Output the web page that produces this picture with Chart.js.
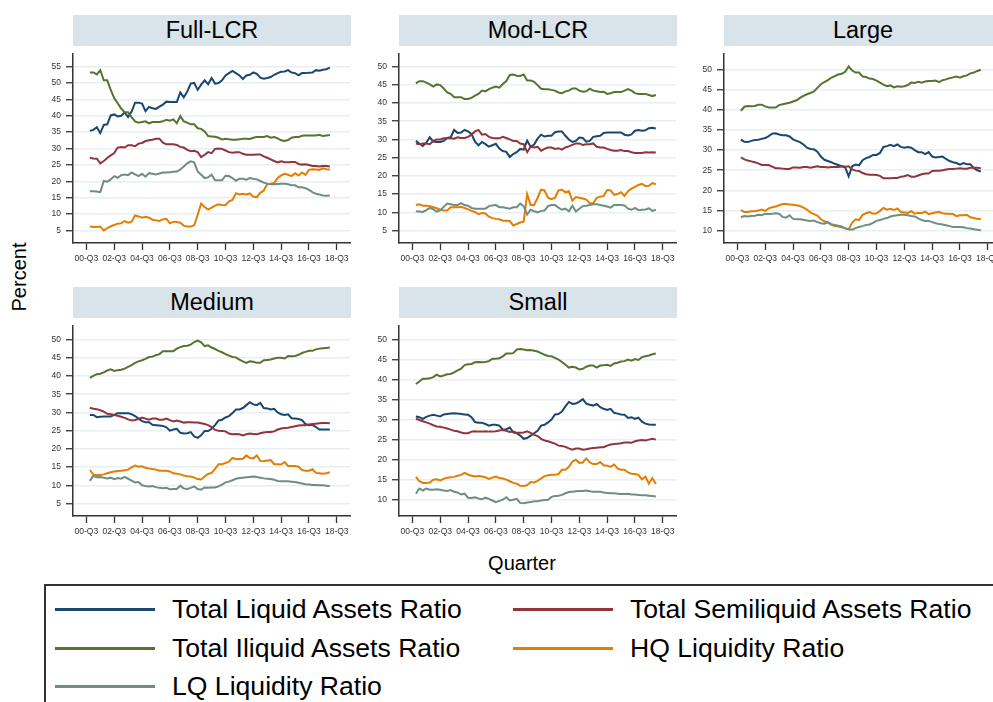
<!DOCTYPE html>
<html>
<head>
<meta charset="utf-8">
<script src="https://cdn.jsdelivr.net/npm/chart.js@4/dist/chart.umd.min.js"></script>
<style>
html,body{margin:0;padding:0;width:993px;height:702px;overflow:hidden;background:#fff;font-family:"Liberation Sans",Arial,Helvetica,sans-serif;}
.strip{position:absolute;background:#d9e4ea;color:#000;font-size:23.5px;text-align:center;white-space:nowrap;overflow:hidden;}
canvas{position:absolute;}
.axt{position:absolute;font-size:20px;color:#000;white-space:nowrap;}
.lgbox{position:absolute;left:44px;top:584px;width:1000px;height:200px;border-top:2px solid #333;border-left:2px solid #333;}
.sw{position:absolute;height:3px;width:100px;}
.lt{position:absolute;font-size:26.6px;line-height:30px;color:#000;white-space:nowrap;}
</style>
</head>
<body>
<script>
// ---------------- DATA ----------------
const quarters = ['2000Q4',
 '2001Q1','2001Q2','2001Q3','2001Q4','2002Q1','2002Q2','2002Q3','2002Q4',
 '2003Q1','2003Q2','2003Q3','2003Q4','2004Q1','2004Q2','2004Q3','2004Q4',
 '2005Q1','2005Q2','2005Q3','2005Q4','2006Q1','2006Q2','2006Q3','2006Q4',
 '2007Q1','2007Q2','2007Q3','2007Q4','2008Q1','2008Q2','2008Q3','2008Q4',
 '2009Q1','2009Q2','2009Q3','2009Q4','2010Q1','2010Q2','2010Q3','2010Q4',
 '2011Q1','2011Q2','2011Q3','2011Q4','2012Q1','2012Q2','2012Q3','2012Q4',
 '2013Q1','2013Q2','2013Q3','2013Q4','2014Q1','2014Q2','2014Q3','2014Q4',
 '2015Q1','2015Q2','2015Q3','2015Q4','2016Q1','2016Q2','2016Q3','2016Q4',
 '2017Q1','2017Q2','2017Q3','2017Q4','2018Q1'];

const xTickLabels = ['00-Q3','02-Q3','04-Q3','06-Q3','08-Q3','10-Q3','12-Q3','14-Q3','16-Q3','18-Q3'];

const seriesNames = ['Total Liquid Assets Ratio','Total Semiliquid Assets Ratio','Total Iliquid Assets Ratio','HQ Liquidity Ratio','LQ Liquidity Ratio'];
const panelNames = ['Full-LCR','Mod-LCR','Large','Medium','Small'];

const yTicksFull = [5,10,15,20,25,30,35,40,45,50,55];
const yTicksMod = [5,10,15,20,25,30,35,40,45,50];
const yTicksLarge = [10,15,20,25,30,35,40,45,50];
const yTicksMedium = [5,10,15,20,25,30,35,40,45,50];
const yTicksSmall = [10,15,20,25,30,35,40,45,50];

// Full-LCR
const fullLiquid = [35.4,35.7,36.5,34.7,37.2,37.4,40.1,40.4,39.8,40.0,
 41.0,39.6,41.3,44.0,44.0,43.7,41.4,42.7,42.3,42.1,
 42.8,43.4,44.3,44.2,44.2,44.2,47.1,45.6,47.4,49.8,
 50.0,47.9,49.5,50.8,49.6,51.5,49.8,50.0,50.8,52.3,
 53.0,53.7,53.0,52.3,51.2,52.3,52.5,53.2,52.8,51.6,
 51.3,51.5,51.8,52.5,53.0,53.4,53.5,53.9,53.2,53.0,
 52.3,53.0,53.0,53.1,53.2,53.9,53.7,54.0,54.2,54.7];
const fullSemi = [27.2,27.0,26.9,25.5,26.2,27.1,27.9,28.6,30.3,30.5,
 30.3,31.0,31.0,30.7,31.5,31.7,32.3,32.5,32.7,33.0,
 33.0,31.8,31.3,31.3,31.3,31.1,30.5,30.3,29.6,29.2,
 29.3,28.9,27.4,28.1,28.9,28.6,29.9,30.0,29.9,29.4,
 28.9,28.7,28.9,28.9,28.4,28.1,28.1,28.1,28.2,28.2,
 27.6,27.2,26.7,26.2,25.8,26.1,25.8,25.8,25.9,25.9,
 25.3,25.1,25.2,25.0,24.7,24.7,24.5,24.7,24.7,24.5];
const fullIlliquid = [53.2,53.2,52.6,53.9,50.8,50.8,47.9,45.4,43.8,42.2,
 41.1,41.1,39.6,38.3,37.9,38.1,38.3,37.7,38.1,38.1,
 38.1,38.3,38.8,38.5,38.9,37.7,39.9,38.3,37.9,37.4,
 37.4,36.2,36.0,35.2,33.8,33.7,33.6,33.3,32.8,33.0,
 32.8,32.7,32.7,32.8,33.0,33.0,32.9,33.3,33.5,33.5,
 33.5,33.8,33.3,33.5,33.1,32.5,32.3,32.6,33.3,33.5,
 33.5,33.9,34.0,34.0,34.0,34.0,34.2,33.8,34.0,34.1];
const fullHQ = [6.2,6.1,6.1,6.2,5.0,5.7,6.3,6.7,7.1,7.2,
 7.9,7.4,7.7,9.6,9.3,8.9,9.2,8.9,8.3,8.1,
 7.9,8.4,8.6,7.2,7.7,7.6,7.4,6.5,6.2,6.2,
 6.6,9.8,13.2,12.2,11.4,12.0,12.6,13.0,12.8,12.7,
 13.9,14.3,16.4,16.0,16.2,16.0,16.3,15.3,15.2,16.5,
 17.2,19.2,19.3,19.5,21.0,21.8,22.3,22.0,21.6,22.5,
 21.8,22.7,22.0,23.5,23.7,23.6,23.5,24.0,23.7,23.6];
const fullLQ = [17.0,17.0,16.9,16.7,20.1,19.9,20.6,21.6,21.1,21.9,
 22.1,21.9,22.7,22.1,21.6,22.3,21.4,22.5,22.3,22.1,
 22.4,22.7,22.7,22.8,22.9,23.0,23.6,24.5,25.5,26.1,
 25.8,23.0,22.0,21.0,21.2,22.0,20.3,20.3,20.3,21.7,
 21.6,21.0,20.2,20.8,20.8,20.5,21.0,20.8,20.6,20.1,
 19.6,19.3,19.1,19.1,19.2,19.3,19.3,19.1,18.8,18.8,
 18.2,18.2,17.9,17.4,16.7,16.2,16.0,15.7,15.6,15.7];

// Mod-LCR
const modLiquid = [29.6,28.9,28.2,29.1,30.6,29.4,29.3,29.3,29.6,30.4,
 30.6,32.6,31.8,31.9,32.6,32.2,31.5,29.4,28.4,29.3,
 28.7,28.0,28.4,28.8,27.5,26.8,26.6,25.2,26.0,26.5,
 27.4,27.2,29.7,28.0,28.6,30.2,31.3,30.8,31.0,31.0,
 32.0,32.2,32.2,31.0,30.0,29.3,29.6,30.5,30.4,29.4,
 29.6,30.7,30.9,31.0,31.8,31.9,31.9,31.9,31.9,31.9,
 31.3,31.1,31.4,32.4,32.6,32.4,32.5,33.1,33.2,33.0];
const modSemi = [28.9,28.7,28.9,28.9,28.7,29.6,30.0,30.0,30.3,30.3,
 30.3,30.2,30.6,30.4,30.4,30.7,31.3,32.2,32.6,31.3,
 31.5,30.7,30.4,30.3,30.3,30.7,30.4,30.0,29.6,29.6,
 28.9,28.7,26.5,28.0,27.8,28.0,26.9,27.4,27.8,27.8,
 27.4,27.6,27.2,27.8,28.1,28.5,28.9,28.9,28.5,28.7,
 28.7,28.9,28.0,27.8,27.8,27.4,27.1,26.9,26.9,27.1,
 26.8,26.8,26.5,26.3,26.3,26.3,26.5,26.4,26.5,26.4];
const modIlliquid = [45.4,46.0,46.0,45.6,45.1,44.5,45.1,44.9,44.0,42.9,
 42.5,41.6,41.6,41.6,41.1,41.1,41.4,42.0,42.5,43.4,
 43.2,43.8,44.2,44.5,44.2,45.2,46.0,47.7,47.8,47.5,
 47.4,47.8,46.2,46.2,45.8,44.9,43.9,43.8,43.8,43.6,
 43.4,42.9,42.7,43.2,43.4,44.0,44.0,43.4,43.1,43.2,
 43.9,43.4,43.2,43.0,43.1,42.5,42.7,43.0,43.0,43.0,
 43.4,43.8,43.4,42.7,42.5,42.5,42.5,42.2,41.9,42.2];
const modHQ = [12.0,12.2,11.8,11.8,11.7,11.4,11.1,10.7,10.5,10.5,
 11.4,11.4,11.4,11.5,11.2,10.8,10.4,10.1,9.5,9.8,
 9.7,8.8,8.4,8.2,8.1,7.7,7.7,7.6,6.4,6.8,
 7.2,7.4,15.0,12.0,12.0,14.0,16.2,16.0,14.0,13.6,
 14.0,16.0,16.2,15.5,15.8,13.2,14.2,14.0,13.8,13.5,
 12.5,12.5,14.0,14.3,14.5,16.1,16.0,14.8,15.0,15.5,
 14.5,15.8,16.5,17.0,17.5,17.8,17.2,17.3,18.0,17.7];
const modLQ = [10.3,10.2,10.1,10.6,11.2,10.8,10.2,10.5,11.5,12.4,
 12.2,12.0,12.0,12.5,12.0,11.8,11.2,11.0,11.0,11.0,
 11.0,11.7,11.9,12.0,11.4,11.4,11.2,11.0,11.4,11.4,
 12.4,11.7,9.4,10.7,10.3,10.0,10.4,10.5,11.7,12.0,
 12.0,11.3,10.7,11.0,10.3,11.8,10.2,11.0,11.7,11.8,
 12.0,12.2,12.2,12.0,11.8,11.6,11.3,12.0,12.0,12.0,
 11.9,11.0,10.7,11.2,10.6,10.7,10.8,11.1,10.4,10.7];

// Large
const largeLiquid = [32.6,32.1,32.0,32.3,32.5,32.6,32.8,33.0,33.5,34.1,
 34.2,33.9,33.7,33.7,33.4,32.7,32.3,32.0,31.4,30.6,
 30.3,30.2,29.6,28.4,27.6,27.3,27.0,26.6,26.3,26.0,
 25.7,23.5,26.0,26.4,26.2,27.5,28.0,28.3,28.8,28.8,
 29.3,30.8,31.0,31.3,31.0,31.4,30.8,30.6,30.8,30.6,
 30.0,29.5,29.5,29.0,29.5,28.4,28.2,28.3,28.4,27.8,
 27.3,27.0,26.8,26.4,26.8,26.5,26.5,25.5,25.0,24.7];
const largeSemi = [28.2,27.7,27.4,27.2,27.0,26.7,26.3,26.3,26.3,25.9,
 25.5,25.5,25.4,25.3,25.3,25.7,25.7,25.6,25.8,25.8,
 25.6,25.8,26.0,25.8,25.8,25.7,25.8,25.8,25.8,25.9,
 25.9,26.0,25.2,24.9,24.8,24.3,24.0,23.9,23.9,23.8,
 23.6,23.0,23.0,23.0,23.1,23.1,23.4,23.5,23.8,23.4,
 23.4,23.7,24.0,24.2,24.2,24.8,24.9,24.9,25.0,25.2,
 25.3,25.3,25.4,25.5,25.4,25.4,25.6,25.6,25.6,25.5];
const largeIlliquid = [39.8,40.8,41.0,40.9,41.0,41.3,41.3,40.9,40.6,40.6,
 40.6,41.2,41.4,41.6,41.8,42.1,42.4,43.0,43.5,43.9,
 44.2,44.6,45.5,46.4,46.9,47.4,48.0,48.4,48.8,49.0,
 49.5,50.8,49.8,49.3,49.3,48.3,48.2,47.8,47.7,47.3,
 46.8,46.3,45.9,46.1,45.6,45.9,45.8,45.9,46.2,46.8,
 46.7,47.0,46.8,47.1,47.2,47.2,47.3,46.9,47.4,47.6,
 47.9,48.1,48.3,48.0,48.4,48.6,49.1,49.3,49.7,50.0];
const largeHQ = [15.1,14.6,14.6,14.8,14.8,15.0,15.2,14.9,15.5,15.8,
 16.0,16.3,16.6,16.6,16.5,16.4,16.3,16.1,15.7,15.2,
 14.5,14.1,13.7,12.8,12.3,12.0,11.4,11.1,11.0,10.8,
 10.6,10.3,12.0,12.8,12.6,13.9,14.3,14.6,14.2,14.3,
 14.9,15.6,15.2,15.4,15.1,15.5,14.6,14.5,14.4,14.8,
 14.2,14.4,14.3,14.7,14.1,14.3,14.5,14.6,14.3,14.2,
 14.2,14.1,13.6,13.8,13.8,13.9,13.3,13.1,12.9,12.9];
const largeLQ = [13.3,13.6,13.5,13.6,13.7,13.9,13.8,14.2,14.1,14.2,
 14.3,14.2,13.4,13.2,13.8,12.9,12.8,12.8,12.7,12.5,
 12.4,12.5,12.1,11.8,11.7,12.1,11.6,11.4,11.2,11.0,
 10.5,10.3,10.2,10.6,10.9,11.1,11.4,11.5,11.9,12.4,
 12.6,12.9,13.1,13.5,13.7,13.8,13.9,13.9,13.8,13.6,
 13.5,13.0,12.6,12.4,12.4,12.1,11.8,11.6,11.5,11.3,
 11.1,10.9,10.9,10.9,10.8,10.6,10.5,10.3,10.2,10.1];

// Medium
const medLiquid = [29.3,29.3,28.7,28.8,28.9,28.9,28.9,29.3,29.8,29.8,
 29.8,29.8,29.5,29.0,28.3,27.6,27.3,27.3,26.6,26.5,
 26.4,26.3,25.9,25.0,25.3,25.5,24.4,24.2,24.3,24.6,
 23.4,23.0,23.7,24.9,24.9,25.5,26.5,27.8,28.0,28.6,
 29.0,29.8,30.8,30.8,31.2,32.0,32.8,32.2,32.0,32.6,
 31.2,31.1,30.8,31.0,30.0,29.5,29.3,29.5,28.4,28.3,
 28.2,27.9,26.8,26.5,26.6,26.0,25.3,25.3,25.3,25.3];
const medSemi = [31.3,31.0,30.9,30.6,30.2,29.6,29.5,29.3,29.1,28.8,
 28.5,28.1,27.8,27.9,28.2,28.6,28.3,28.0,28.3,28.3,
 28.0,28.0,28.3,27.9,27.5,27.8,27.5,27.2,27.3,27.3,
 27.2,27.2,27.0,26.8,26.5,26.0,25.2,25.0,24.9,24.8,
 24.2,24.0,24.1,24.0,23.7,24.0,24.2,24.1,24.0,24.3,
 24.5,24.6,24.6,24.8,25.3,25.6,25.7,25.8,26.0,26.2,
 26.4,26.5,26.5,26.7,26.8,26.9,27.0,27.1,27.1,27.0];
const medIlliquid = [39.5,40.0,40.5,40.6,41.0,41.5,41.8,41.4,41.6,41.7,
 42.0,42.5,43.0,43.6,44.0,44.3,44.7,45.2,45.3,45.7,
 46.0,46.8,46.8,46.8,46.8,47.5,47.9,48.2,48.3,48.6,
 49.3,49.7,49.2,48.2,48.4,47.8,47.4,46.9,46.5,46.0,
 45.6,45.2,45.1,44.5,44.0,43.6,44.0,43.9,43.6,43.6,
 44.3,44.4,44.5,44.8,45.0,45.0,44.8,45.5,45.4,45.5,
 45.8,46.3,46.6,46.9,46.9,47.3,47.5,47.6,47.7,47.8];
const medHQ = [14.2,13.0,12.8,12.8,13.0,13.3,13.6,13.8,13.9,14.0,
 14.1,14.3,14.9,15.4,15.1,15.2,14.8,14.6,14.5,14.3,
 14.0,14.0,14.0,13.8,13.3,13.2,13.0,12.7,12.5,12.4,
 12.1,11.7,11.6,12.4,13.1,13.4,14.5,15.8,15.8,16.1,
 16.5,17.5,17.2,17.2,17.3,18.2,17.5,17.4,18.2,16.7,
 16.6,16.8,16.9,15.8,15.8,15.7,16.4,15.3,15.3,15.3,
 15.1,14.2,14.0,14.0,14.4,13.4,13.3,13.2,13.3,13.6];
const medLQ = [11.2,12.6,12.2,12.3,12.1,11.9,12.1,11.7,12.0,11.8,
 12.3,11.8,11.3,10.8,10.9,10.0,9.8,9.7,9.8,9.5,
 9.3,9.2,9.3,8.9,9.0,9.0,9.9,9.1,9.0,9.3,
 9.7,9.0,8.8,9.4,9.3,9.4,9.4,9.7,10.2,10.8,
 11.0,11.4,11.8,12.0,12.1,12.2,12.3,12.4,12.3,12.1,
 11.9,11.8,11.7,11.5,11.2,11.1,11.1,11.1,11.0,10.9,
 10.7,10.5,10.3,10.2,10.1,10.1,10.0,10.0,9.9,9.8];

// Small
const smallLiquid = [30.8,30.6,30.2,30.7,31.0,31.2,31.0,30.8,31.3,31.4,
 31.5,31.6,31.5,31.4,31.3,31.2,30.6,29.4,29.2,29.2,
 28.9,28.5,28.7,28.7,28.5,27.5,27.6,28.0,26.8,26.6,
 26.0,25.2,25.4,26.0,26.6,27.2,28.5,28.7,29.3,30.0,
 31.3,31.4,32.0,33.3,34.4,33.9,34.0,34.5,35.1,34.0,
 33.7,33.5,33.9,33.1,32.7,32.4,32.7,31.7,31.5,31.3,
 31.2,30.4,30.6,30.2,30.5,29.5,29.0,28.8,28.7,28.7];
const smallSemi = [30.2,29.9,29.6,29.3,29.0,28.6,28.3,28.2,28.0,27.8,
 27.5,27.2,27.1,26.8,26.6,26.6,27.0,27.1,27.0,27.0,
 27.1,27.0,27.0,27.1,27.3,27.4,27.2,26.9,27.0,26.7,
 26.7,26.8,27.1,26.7,26.2,25.9,25.2,24.8,24.6,24.3,
 24.0,23.5,23.4,23.2,22.8,22.5,22.8,22.8,22.5,22.6,
 22.8,22.9,23.0,23.1,23.1,23.5,23.8,23.9,24.0,24.1,
 24.3,24.3,24.2,24.6,24.8,24.9,24.8,25.0,25.2,25.0];
const smallIlliquid = [38.9,39.5,40.2,40.2,40.3,40.6,41.2,40.8,41.0,41.3,
 41.4,41.8,42.3,42.7,43.6,43.8,43.9,44.3,44.4,44.3,
 44.4,44.6,45.2,45.2,45.3,45.8,46.5,46.5,46.6,47.5,
 47.6,47.5,47.3,47.4,47.2,47.0,46.6,46.2,45.9,45.8,
 45.4,45.0,44.4,43.7,43.0,43.2,43.0,42.5,42.7,43.2,
 43.5,43.5,43.0,43.5,43.6,43.7,43.4,44.0,44.2,44.5,
 44.6,45.0,44.7,45.1,44.9,45.6,45.8,46.0,46.3,46.5];
const smallHQ = [15.7,14.6,14.2,14.2,14.3,15.0,15.1,14.8,15.2,15.5,
 15.6,15.7,16.0,16.2,16.7,16.3,16.0,15.8,15.9,15.8,
 15.6,15.2,15.5,15.8,15.4,15.3,15.0,14.6,14.2,14.0,
 13.5,13.4,13.6,14.4,14.3,14.7,15.3,15.9,16.1,16.2,
 16.2,16.4,17.5,17.5,18.2,19.5,20.0,19.2,19.3,20.3,
 19.3,18.9,18.9,19.4,18.6,18.5,18.2,18.8,17.8,17.5,
 17.5,16.8,16.5,16.4,16.2,15.1,15.8,14.0,15.4,13.9];
const smallLQ = [11.5,12.8,12.3,12.8,12.5,12.5,12.6,12.5,12.3,12.2,
 12.4,12.0,11.8,11.3,11.5,10.5,10.4,10.6,10.3,10.1,
 10.5,10.2,9.8,9.4,9.7,10.0,10.6,9.8,10.0,10.2,
 9.2,9.1,9.3,9.4,9.6,9.6,9.8,9.9,10.0,10.7,
 10.9,11.0,11.2,11.6,11.9,12.0,12.1,12.2,12.2,12.3,
 12.1,12.0,12.0,12.0,11.8,11.7,11.6,11.6,11.5,11.4,
 11.4,11.5,11.3,11.3,11.2,11.1,11.1,11.0,10.9,10.8];

// ---------------- STYLE / LAYOUT ----------------
const COLORS = ['#1a476f','#90353b','#55752f','#e37e00','#6e8e84'];
const FONT = '"Liberation Sans", Arial, Helvetica, sans-serif';
const YW = 40, XH = 32, PADT = 2, PADR = 8;

// quarter string -> index, 2000Q3 = 0
function qIndex(s){ const y = parseInt(s.slice(0,4),10), q = parseInt(s.slice(5),10); return (y-2000)*4 + (q-3); }
function tickIndex(lbl){ const y = 2000 + parseInt(lbl.slice(0,2),10), q = parseInt(lbl.slice(4),10); return (y-2000)*4 + (q-3); }
const xTickVals = xTickLabels.map(tickIndex);

const layout = [
  {name:panelNames[0], left:73,  top:46,  w:277, h:197, ymin:1.2,  ymax:58.8,  yt:yTicksFull,   s:[fullLiquid,fullSemi,fullIlliquid,fullHQ,fullLQ]},
  {name:panelNames[1], left:399, top:46,  w:277, h:197, ymin:1.58, ymax:53.42, yt:yTicksMod,    s:[modLiquid,modSemi,modIlliquid,modHQ,modLQ]},
  {name:panelNames[2], left:724, top:46,  w:277, h:197, ymin:6.9,  ymax:53.89, yt:yTicksLarge,  s:[largeLiquid,largeSemi,largeIlliquid,largeHQ,largeLQ]},
  {name:panelNames[3], left:73,  top:318, w:277, h:198, ymin:1.58, ymax:53.68, yt:yTicksMedium, s:[medLiquid,medSemi,medIlliquid,medHQ,medLQ]},
  {name:panelNames[4], left:399, top:318, w:277, h:198, ymin:5.93, ymax:53.35, yt:yTicksSmall,  s:[smallLiquid,smallSemi,smallIlliquid,smallHQ,smallLQ]}
];

layout.forEach((p) => {
  const st = document.createElement('div');
  st.className = 'strip';
  st.style.left = p.left + 'px';
  st.style.top = (p.top - 31) + 'px';
  st.style.width = (p.w + 1) + 'px';
  st.style.height = '31px';
  st.style.lineHeight = '31px';
  st.textContent = p.name;
  document.body.appendChild(st);

  const cv = document.createElement('canvas');
  const cw = YW + p.w + PADR, ch = PADT + p.h + XH;
  cv.width = cw; cv.height = ch;
  cv.style.width = cw + 'px'; cv.style.height = ch + 'px';
  cv.style.left = (p.left - YW) + 'px';
  cv.style.top = (p.top - PADT) + 'px';
  document.body.appendChild(cv);

  const datasets = p.s.map((arr, k) => ({
    label: seriesNames[k],
    data: arr.map((v, i) => ({x: qIndex(quarters[i]), y: v})),
    borderColor: COLORS[k],
    backgroundColor: COLORS[k],
    borderWidth: 2,
    pointRadius: 0,
    tension: 0,
    fill: false,
    order: -k
  }));

  new Chart(cv.getContext('2d'), {
    type: 'line',
    data: {datasets},
    options: {
      responsive: false,
      animation: false,
      devicePixelRatio: 1,
      layout: {padding: {left: 0, top: PADT, right: PADR, bottom: 0}},
      plugins: {legend: {display: false}, tooltip: {enabled: false}},
      scales: {
        x: {
          type: 'linear', min: -3.85, max: 75.8,
          afterFit: (s) => { s.height = XH; },
          afterBuildTicks: (s) => { s.ticks = xTickVals.map(v => ({value: v})); },
          ticks: {
            autoSkip: false, maxRotation: 0, minRotation: 0, padding: 4,
            color: '#333', font: {family: FONT, size: 8.5},
            callback: (v) => { const i = xTickVals.indexOf(v); return i >= 0 ? xTickLabels[i] : ''; }
          },
          grid: {drawOnChartArea: false, drawTicks: true, tickLength: 7, tickColor: '#333', tickWidth: 1.3},
          border: {display: true, color: '#333', width: 1.5}
        },
        y: {
          type: 'linear', min: p.ymin, max: p.ymax,
          afterFit: (s) => { s.width = YW; },
          afterBuildTicks: (s) => { s.ticks = p.yt.map(v => ({value: v})); },
          ticks: {autoSkip: false, padding: 5, color: '#333', font: {family: FONT, size: 8.5}},
          grid: {color: '#e7eff2', lineWidth: 1.5, drawTicks: true, tickLength: 7, tickColor: '#333', tickWidth: 1.3},
          border: {display: true, color: '#333', width: 1.5}
        }
      }
    }
  });
});

const pt = document.createElement('div');
pt.className = 'axt';
pt.textContent = 'Percent';
pt.style.left = '19px'; pt.style.top = '277px';
pt.style.transform = 'translate(-50%,-50%) rotate(-90deg)';
document.body.appendChild(pt);

const qt = document.createElement('div');
qt.className = 'axt';
qt.textContent = 'Quarter';
qt.style.left = '522px'; qt.style.top = '563px';
qt.style.transform = 'translate(-50%,-50%)';
document.body.appendChild(qt);

const lg = document.createElement('div');
lg.className = 'lgbox';
document.body.appendChild(lg);
const legendPos = [[0,0],[1,0],[0,1],[1,1],[0,2]];
const rowY = [609, 648, 686];
seriesNames.forEach((name, k) => {
  const [col, row] = legendPos[k];
  const sw = document.createElement('div');
  sw.className = 'sw';
  sw.style.background = COLORS[k];
  sw.style.left = (col ? 513 : 55) + 'px';
  sw.style.top = (rowY[row] - 1.5) + 'px';
  document.body.appendChild(sw);
  const t = document.createElement('div');
  t.className = 'lt';
  t.textContent = name;
  t.style.left = (col ? 630 : 172) + 'px';
  t.style.top = (rowY[row] - 15) + 'px';
  document.body.appendChild(t);
});
</script>
</body>
</html>
